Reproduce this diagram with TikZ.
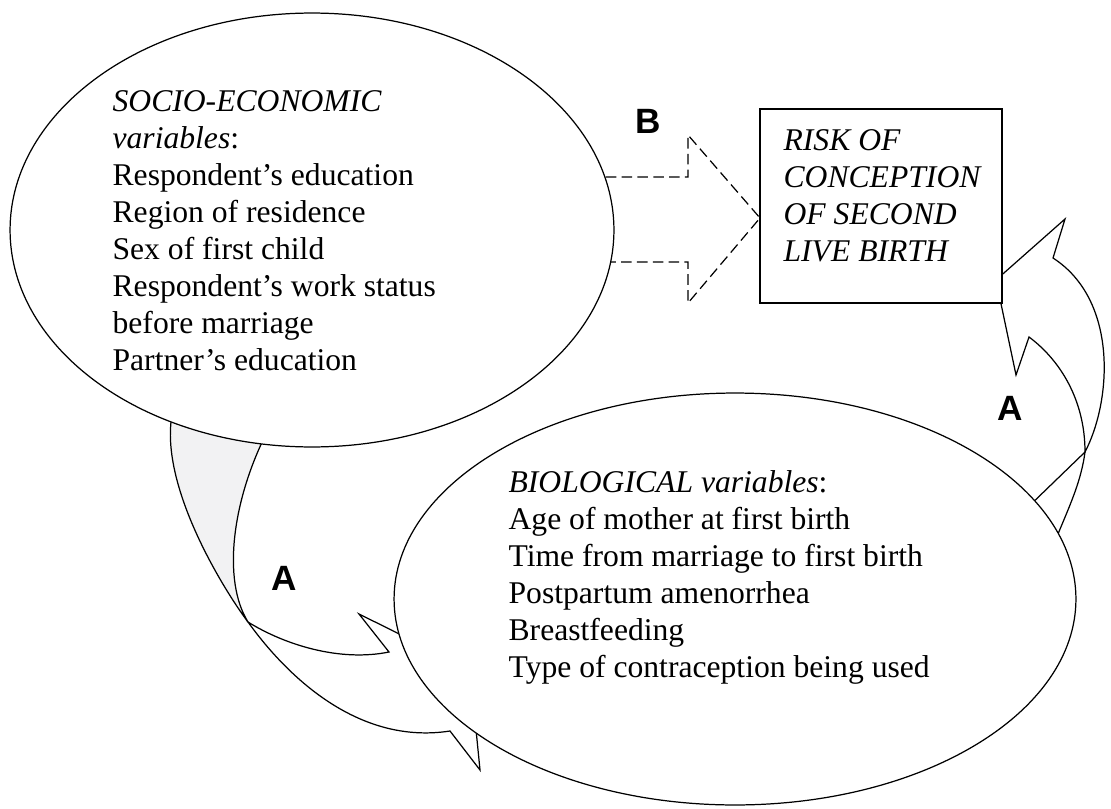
\documentclass[tikz,border=0pt]{standalone}
\usepackage{fontspec}
\setmainfont{Liberation Serif}
\newfontfamily\letterfont{Liberation Sans}
\usetikzlibrary{shapes.geometric,positioning}
\tikzset{
    variables/.style = {
        draw, ellipse,
        fill = white,
        inner sep = 0pt,
        },
    var list/.style = {
        align = left,
        inner sep = 0pt,
        anchor = base west,
        font = \fontsize{18}{21}\selectfont,
        },
    risk box/.style = {
        draw,
        fill = white,
        inner sep = 0pt,
        },
    path letter/.style = {
        font = \letterfont\bfseries\fontsize{20}{24}\selectfont,
        },
    front face/.style = {
        draw,
        fill = white,
        line join = miter,
        },
    back face/.style = {
        draw,
        fill = blue!5!gray!10,
        },
    effect b/.style = {
        draw,
        dash pattern = on 6pt off 3pt,
        },
}

\begin{document}
\begin{tikzpicture}[x=0.02cm, y=-0.02cm, line width=0.7pt]
            \useasboundingbox[fill=white] (0,0) rectangle (1111,808);

            % A: socio-economic -> biological
            \path[back face] (176,400) .. controls (150,470) and (221,586) .. (248,622)
                .. controls (222,580) and (232,500) .. (268,430) -- cycle;
            \path[front face] (248,622) .. controls (289,679) and (360,745) .. (450,731)
                -- (480,770) -- (470,669) -- (359,614) -- (389,652)
                .. controls (340,662) and (285,645) .. cycle;

            % A: biological -> risk
            \path[front face] (1085,452) .. controls (1080,490) and (1062,520) .. (1048,560)
                -- (1025,510) -- cycle;
            \path[front face] (1085,452) .. controls (1112,400) and (1118,300) .. (1053,258)
                -- (1065,219) -- (996,280) -- (1016,375) -- (1029,337)
                .. controls (1060,360) and (1085,400) .. cycle;

            % B: socio-economic -> risk
            \path[effect b] (590,177) -- (688,177) -- (688,135) -- (760,218)
                -- (688,303) -- (688,262) -- (590,262) -- cycle;

            \node[variables, minimum width=12.08cm, minimum height=8.68cm] (socio) at (312,230) {};
            \node[variables, minimum width=13.64cm, minimum height=8.24cm] (bio) at (735,599) {};
            \node[risk box, minimum width=4.84cm, minimum height=3.88cm] (risk) at (881,206) {};

            % base anchor sits on the last line
            \node[var list] (socio list) at (112,370) {\textit{SOCIO-ECONOMIC}\\
                \textit{variables}:\\ Respondent's education\\ Region of residence\\
                Sex of first child\\ Respondent's work status\\ before marriage\\
                Partner's education};
            \node[var list] (bio list) at (508,677) {\textit{BIOLOGICAL variables}:\\
                Age of mother at first birth\\ Time from marriage to first birth\\
                Postpartum amenorrhea\\ Breastfeeding\\ Type of contraception being used};
            \node[var list, font=\fontsize{18}{21}\selectfont\itshape] (risk list) at (783,261)
                {RISK OF\\ CONCEPTION\\ OF SECOND\\ LIVE BIRTH};

            \node[path letter] (b) at (648,121) {B};
            \node[path letter] (a left) at (284,578) {A};
            \node[path letter] (a right) at (1010,408) {A};
        \end{tikzpicture}
\end{document}
